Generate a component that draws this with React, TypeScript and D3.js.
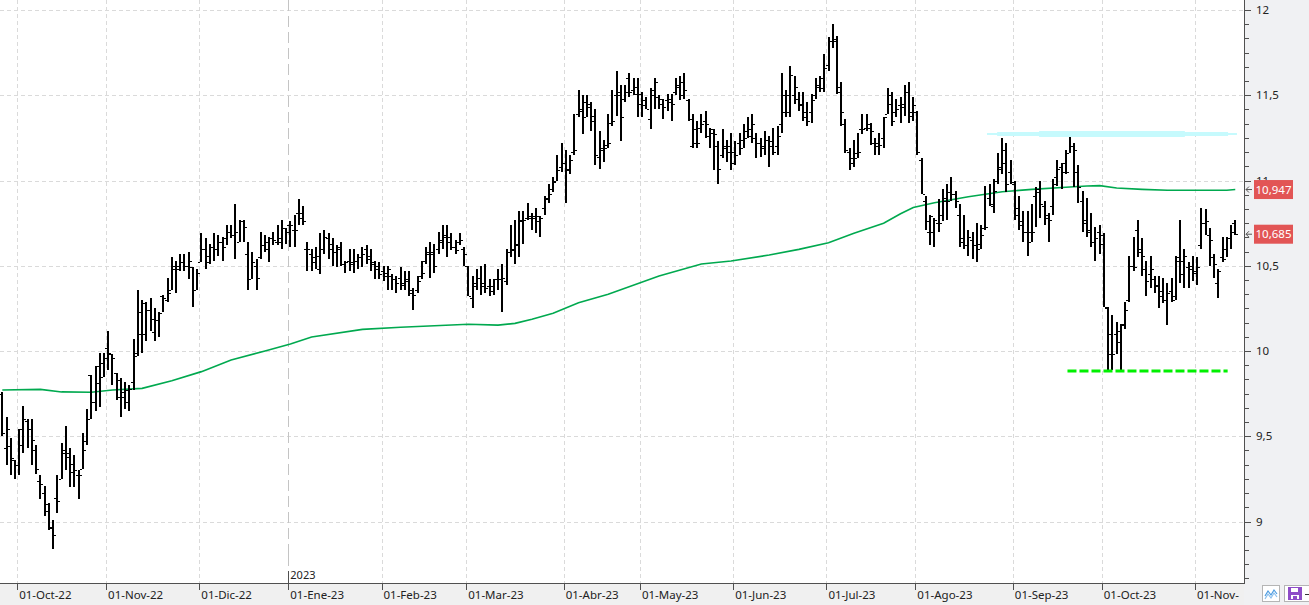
import React from "react";
import * as d3 from "d3";

// OHLC diario (sesiones desde 27-sep-22 hasta 14-nov-23)
const opens = [
  9.75, 9.43, 9.44, 9.36, 9.33, 9.54, 9.59, 9.54, 9.42, 9.24, 9.17, 9.06, 8.97, 9.14, 9.25, 9.42, 9.40, 9.34, 9.27, 9.31,
  9.47, 9.86, 9.70, 9.91, 9.93, 10.02, 9.98, 9.87, 9.73, 9.73, 9.77, 9.82, 9.97, 10.10, 10.10, 10.24, 10.11, 10.18, 10.32, 10.30,
  10.36, 10.48, 10.50, 10.52, 10.50, 10.49, 10.36, 10.52, 10.60, 10.52, 10.61, 10.60, 10.64, 10.66, 10.70, 10.68, 10.64, 10.76, 10.57, 10.42,
  10.50, 10.55, 10.62, 10.60, 10.66, 10.64, 10.66, 10.72, 10.74, 10.71, 10.81, 10.78, 10.60, 10.57, 10.52, 10.48, 10.60, 10.66, 10.63, 10.58,
  10.61, 10.51, 10.53, 10.52, 10.53, 10.55, 10.60, 10.56, 10.51, 10.50, 10.47, 10.44, 10.44, 10.42, 10.43, 10.40, 10.41, 10.34, 10.36, 10.44,
  10.53, 10.58, 10.58, 10.60, 10.65, 10.68, 10.64, 10.61, 10.64, 10.60, 10.50, 10.31, 10.40, 10.43, 10.40, 10.38, 10.38, 10.42, 10.42, 10.41,
  10.58, 10.60, 10.62, 10.76, 10.78, 10.79, 10.78, 10.76, 10.84, 10.90, 10.95, 11.00, 11.08, 11.10, 11.07, 11.17, 11.39, 11.42, 11.37, 11.43,
  11.38, 11.14, 11.18, 11.21, 11.34, 11.50, 11.50, 11.48, 11.60, 11.53, 11.55, 11.45, 11.47, 11.36, 11.50, 11.49, 11.45, 11.47, 11.48, 11.52,
  11.56, 11.58, 11.47, 11.20, 11.30, 11.31, 11.35, 11.26, 11.28, 11.20, 11.15, 11.20, 11.20, 11.17, 11.22, 11.24, 11.29, 11.30, 11.25, 11.22,
  11.20, 11.24, 11.20, 11.20, 11.33, 11.40, 11.40, 11.50, 11.48, 11.45, 11.40, 11.40, 11.50, 11.56, 11.60, 11.68, 11.82, 11.82, 11.55, 11.33,
  11.17, 11.10, 11.16, 11.30, 11.31, 11.31, 11.22, 11.20, 11.25, 11.39, 11.45, 11.40, 11.44, 11.45, 11.52, 11.40, 11.40, 11.12, 10.88, 10.70,
  10.70, 10.75, 10.80, 10.90, 10.93, 10.92, 10.80, 10.66, 10.62, 10.65, 10.62, 10.63, 10.72, 10.90, 10.85, 11.00, 11.08, 11.18, 11.05, 10.98,
  10.80, 10.76, 10.70, 10.70, 10.91, 10.93, 10.85, 10.78, 10.85, 11.02, 11.08, 11.10, 11.16, 11.20, 11.05, 10.88, 10.75, 10.70, 10.64, 10.70,
  10.68, 10.25, 10.10, 10.10, 10.12, 10.16, 10.30, 10.50, 10.71, 10.60, 10.48, 10.45, 10.42, 10.38, 10.35, 10.30, 10.35, 10.32, 10.55, 10.45,
  10.49, 10.50, 10.47, 10.62, 10.75, 10.68, 10.55, 10.40, 10.55, 10.60, 10.66, 10.75,
];
const highs = [
  9.76, 9.61, 9.49, 9.36, 9.54, 9.68, 9.60, 9.60, 9.45, 9.27, 9.21, 9.11, 9.01, 9.27, 9.46, 9.56, 9.43, 9.39, 9.30, 9.52,
  9.66, 9.86, 9.91, 9.99, 9.99, 10.12, 9.98, 9.87, 9.84, 9.82, 9.80, 10.07, 10.36, 10.30, 10.29, 10.31, 10.25, 10.23, 10.33, 10.43,
  10.55, 10.53, 10.57, 10.57, 10.58, 10.49, 10.48, 10.69, 10.66, 10.63, 10.69, 10.68, 10.67, 10.74, 10.74, 10.86, 10.77, 10.77, 10.64, 10.58,
  10.54, 10.70, 10.68, 10.67, 10.70, 10.74, 10.77, 10.72, 10.76, 10.80, 10.89, 10.85, 10.64, 10.60, 10.61, 10.69, 10.71, 10.69, 10.66, 10.62,
  10.64, 10.53, 10.60, 10.60, 10.57, 10.61, 10.62, 10.60, 10.53, 10.52, 10.50, 10.50, 10.45, 10.44, 10.49, 10.47, 10.47, 10.37, 10.44, 10.53,
  10.61, 10.64, 10.63, 10.70, 10.74, 10.74, 10.69, 10.65, 10.69, 10.61, 10.50, 10.44, 10.48, 10.50, 10.51, 10.42, 10.42, 10.48, 10.51, 10.60,
  10.74, 10.77, 10.82, 10.82, 10.87, 10.81, 10.84, 10.79, 10.91, 10.98, 11.02, 11.15, 11.22, 11.18, 11.15, 11.39, 11.53, 11.50, 11.50, 11.46,
  11.42, 11.29, 11.24, 11.39, 11.53, 11.64, 11.56, 11.56, 11.63, 11.60, 11.60, 11.52, 11.49, 11.54, 11.60, 11.50, 11.48, 11.51, 11.51, 11.60,
  11.61, 11.63, 11.48, 11.39, 11.35, 11.39, 11.41, 11.31, 11.30, 11.23, 11.30, 11.24, 11.28, 11.23, 11.28, 11.33, 11.37, 11.39, 11.28, 11.25,
  11.29, 11.26, 11.31, 11.32, 11.63, 11.53, 11.67, 11.61, 11.52, 11.52, 11.46, 11.51, 11.60, 11.61, 11.74, 11.84, 11.92, 11.85, 11.58, 11.36,
  11.19, 11.24, 11.28, 11.39, 11.39, 11.34, 11.25, 11.28, 11.37, 11.54, 11.52, 11.48, 11.49, 11.56, 11.58, 11.49, 11.41, 11.13, 10.91, 10.80,
  10.78, 10.89, 10.95, 10.98, 11.02, 10.94, 10.86, 10.80, 10.71, 10.70, 10.75, 10.74, 10.97, 10.98, 11.01, 11.16, 11.25, 11.22, 11.12, 11.00,
  10.91, 10.82, 10.82, 10.86, 10.96, 11.00, 10.88, 10.81, 11.01, 11.12, 11.10, 11.18, 11.29, 11.22, 11.09, 10.94, 10.90, 10.81, 10.73, 10.74,
  10.69, 10.26, 10.21, 10.17, 10.16, 10.29, 10.56, 10.67, 10.77, 10.66, 10.53, 10.56, 10.44, 10.44, 10.43, 10.40, 10.43, 10.56, 10.77, 10.60,
  10.52, 10.56, 10.55, 10.84, 10.83, 10.72, 10.57, 10.48, 10.67, 10.67, 10.74, 10.77,
];
const lows = [
  9.50, 9.33, 9.27, 9.25, 9.27, 9.40, 9.43, 9.33, 9.28, 9.13, 9.03, 8.95, 8.84, 9.05, 9.25, 9.30, 9.20, 9.20, 9.13, 9.31,
  9.45, 9.60, 9.65, 9.67, 9.85, 9.89, 9.80, 9.71, 9.61, 9.66, 9.65, 9.77, 9.97, 9.99, 10.06, 10.12, 10.06, 10.08, 10.23, 10.29,
  10.36, 10.34, 10.47, 10.47, 10.42, 10.26, 10.36, 10.52, 10.48, 10.51, 10.53, 10.56, 10.53, 10.62, 10.66, 10.54, 10.64, 10.64, 10.36, 10.42,
  10.36, 10.54, 10.58, 10.52, 10.62, 10.62, 10.60, 10.63, 10.61, 10.61, 10.74, 10.74, 10.47, 10.47, 10.48, 10.45, 10.57, 10.54, 10.50, 10.49,
  10.50, 10.46, 10.47, 10.46, 10.48, 10.49, 10.51, 10.47, 10.42, 10.42, 10.41, 10.36, 10.36, 10.34, 10.36, 10.36, 10.32, 10.24, 10.34, 10.42,
  10.51, 10.43, 10.46, 10.57, 10.60, 10.55, 10.59, 10.57, 10.62, 10.50, 10.32, 10.25, 10.36, 10.33, 10.34, 10.32, 10.33, 10.36, 10.23, 10.39,
  10.55, 10.51, 10.55, 10.63, 10.77, 10.71, 10.69, 10.67, 10.80, 10.87, 10.93, 11.00, 11.05, 10.87, 11.04, 11.15, 11.37, 11.27, 11.37, 11.29,
  11.09, 11.07, 11.11, 11.19, 11.32, 11.38, 11.23, 11.46, 11.49, 11.50, 11.37, 11.37, 11.42, 11.30, 11.42, 11.42, 11.36, 11.41, 11.35, 11.50,
  11.47, 11.48, 11.35, 11.19, 11.19, 11.28, 11.25, 11.19, 11.06, 10.98, 11.13, 11.11, 11.06, 11.09, 11.15, 11.19, 11.25, 11.22, 11.13, 11.14,
  11.15, 11.08, 11.15, 11.15, 11.28, 11.37, 11.37, 11.45, 11.41, 11.35, 11.32, 11.34, 11.48, 11.52, 11.52, 11.64, 11.78, 11.51, 11.32, 11.16,
  11.06, 11.08, 11.13, 11.27, 11.29, 11.21, 11.15, 11.15, 11.19, 11.39, 11.32, 11.37, 11.34, 11.38, 11.34, 11.35, 11.15, 10.92, 10.71, 10.62,
  10.61, 10.70, 10.76, 10.77, 10.88, 10.84, 10.61, 10.60, 10.56, 10.54, 10.52, 10.60, 10.71, 10.85, 10.81, 10.98, 11.04, 10.93, 10.98, 10.77,
  10.71, 10.64, 10.56, 10.64, 10.73, 10.78, 10.74, 10.64, 10.80, 10.97, 10.95, 11.04, 11.16, 10.96, 10.87, 10.70, 10.67, 10.61, 10.53, 10.57,
  10.26, 9.89, 9.89, 9.98, 9.89, 10.13, 10.29, 10.47, 10.55, 10.44, 10.32, 10.37, 10.34, 10.25, 10.28, 10.15, 10.29, 10.30, 10.40, 10.37,
  10.37, 10.41, 10.39, 10.60, 10.68, 10.50, 10.43, 10.31, 10.52, 10.55, 10.60, 10.68,
];
const closes = [
  9.52, 9.54, 9.37, 9.33, 9.45, 9.60, 9.54, 9.48, 9.31, 9.22, 9.10, 8.96, 8.92, 9.12, 9.40, 9.38, 9.29, 9.30, 9.27, 9.42,
  9.60, 9.70, 9.81, 9.85, 9.96, 9.99, 9.96, 9.83, 9.76, 9.70, 9.78, 9.99, 10.23, 10.28, 10.24, 10.19, 10.18, 10.22, 10.31, 10.34,
  10.50, 10.48, 10.52, 10.50, 10.53, 10.36, 10.46, 10.60, 10.56, 10.61, 10.60, 10.64, 10.61, 10.70, 10.68, 10.70, 10.76, 10.73, 10.42, 10.52,
  10.43, 10.62, 10.64, 10.66, 10.65, 10.64, 10.72, 10.70, 10.74, 10.71, 10.81, 10.76, 10.60, 10.55, 10.56, 10.60, 10.67, 10.60, 10.58, 10.60,
  10.51, 10.52, 10.51, 10.53, 10.55, 10.57, 10.54, 10.52, 10.48, 10.45, 10.46, 10.48, 10.42, 10.40, 10.39, 10.42, 10.36, 10.33, 10.41, 10.46,
  10.57, 10.57, 10.50, 10.64, 10.67, 10.67, 10.61, 10.59, 10.65, 10.57, 10.32, 10.38, 10.43, 10.38, 10.37, 10.35, 10.42, 10.42, 10.43, 10.58,
  10.59, 10.63, 10.77, 10.77, 10.78, 10.79, 10.79, 10.78, 10.89, 10.92, 10.99, 11.06, 11.10, 11.06, 11.12, 11.18, 11.41, 11.46, 11.45, 11.35,
  11.15, 11.19, 11.19, 11.22, 11.35, 11.52, 11.37, 11.52, 11.52, 11.51, 11.51, 11.44, 11.42, 11.53, 11.58, 11.48, 11.43, 11.46, 11.45, 11.55,
  11.50, 11.53, 11.36, 11.22, 11.22, 11.33, 11.33, 11.30, 11.27, 11.07, 11.19, 11.17, 11.10, 11.15, 11.19, 11.25, 11.26, 11.33, 11.22, 11.19,
  11.24, 11.23, 11.17, 11.26, 11.50, 11.50, 11.62, 11.55, 11.44, 11.37, 11.35, 11.47, 11.55, 11.54, 11.66, 11.82, 11.83, 11.52, 11.40, 11.18,
  11.13, 11.13, 11.17, 11.30, 11.33, 11.29, 11.22, 11.21, 11.37, 11.50, 11.35, 11.42, 11.43, 11.52, 11.38, 11.44, 11.17, 10.92, 10.76, 10.79,
  10.77, 10.75, 10.88, 10.88, 10.92, 10.88, 10.64, 10.62, 10.67, 10.62, 10.60, 10.68, 10.73, 10.86, 10.94, 11.07, 11.10, 10.98, 10.99, 10.84,
  10.74, 10.70, 10.64, 10.70, 10.95, 10.86, 10.80, 10.77, 10.98, 11.07, 11.05, 11.05, 11.26, 11.18, 10.96, 10.77, 10.71, 10.64, 10.66, 10.63,
  10.26, 9.98, 9.98, 10.05, 10.15, 10.24, 10.50, 10.49, 10.58, 10.56, 10.41, 10.48, 10.39, 10.32, 10.30, 10.34, 10.30, 10.53, 10.53, 10.56,
  10.48, 10.46, 10.49, 10.75, 10.76, 10.65, 10.51, 10.47, 10.54, 10.66, 10.70, 10.685,
];

// media móvil (sesión, valor)
const maIndex = [0, 9, 14, 21, 26, 33, 40, 47, 54, 62, 68, 73, 85, 94, 102, 110, 117, 121, 125, 130, 136, 143, 155, 165, 172, 181, 188, 195, 201, 208, 212, 215, 220, 228, 236, 243, 251, 256, 259, 263, 269, 275, 289, 291];
const maValue = [9.771, 9.775, 9.760, 9.758, 9.771, 9.781, 9.826, 9.879, 9.947, 10.0, 10.041, 10.082, 10.127, 10.139, 10.148, 10.157, 10.152, 10.162, 10.186, 10.221, 10.283, 10.333, 10.44, 10.51, 10.528, 10.563, 10.596, 10.635, 10.69, 10.749, 10.805, 10.842, 10.87, 10.905, 10.934, 10.948, 10.96, 10.968, 10.97, 10.956, 10.948, 10.943, 10.943, 10.947];

const monthStart = [4, 25, 47, 68, 90, 110, 133, 151, 173, 195, 216, 239, 260, 282];
const monthLabels = ["01-Oct-22", "01-Nov-22", "01-Dic-22", "01-Ene-23", "01-Feb-23", "01-Mar-23", "01-Abr-23", "01-May-23", "01-Jun-23", "01-Jul-23", "01-Ago-23", "01-Sep-23", "01-Oct-23", "01-Nov-"];
const yearMark = { index: 68, label: "2023" };
const priceTicks = [12, 11.5, 11, 10.5, 10, 9.5, 9];
const priceLabels = ["12", "11,5", "11", "10,5", "10", "9,5", "9"];

// trazos dibujados a mano
const resistance = { value: 11.273, from: 232.4, to: 291.4, inner: [234.8, 289.3], core: [244.7, 279.1] };
const support = { value: 9.883, from: 251.4, to: 289.2 };
const lastMA = 10.947;
const lastClose = 10.685;

const W = 1309;
const H = 605;
const plotRight = 1244;
const axisY = 583;
const font = "'Noto Sans', 'DejaVu Sans', sans-serif";

export default function App() {
  const n = closes.length;
  const step = 4.237;
  const x = d3.scaleLinear().domain([0, n - 1]).range([2.3, 2.3 + step * (n - 1)]);
  const y = d3.scaleLinear().domain([9, 12]).range([521.5, 10]);

  const maLine = d3
    .line<number>()
    .x((d, i) => x(maIndex[i]))
    .y((d) => y(d));

  const minorTicks = d3.range(0, 45).map((k) => 12.25 - k / 12).filter((v) => y(v) > 0 && y(v) < axisY);

  const grid = "#dadada";
  const px = (v: number) => Math.round(v) + 0.5;

  return (
    <div style={{ position: "fixed", left: 0, top: 0 }}>
      <svg width={W} height={H} style={{ display: "block", fontFamily: font }}>
        <rect x={0} y={0} width={W} height={H} fill="#ffffff" />
        <rect x={plotRight} y={0} width={W - plotRight} height={H} fill="#f0f1f3" />
        <rect x={0} y={axisY} width={plotRight} height={H - axisY} fill="#f0f0f0" />

        {/* rejilla */}
        {priceTicks.map((v) => (
          <line key={"h" + v} x1={0} x2={plotRight} y1={px(y(v))} y2={px(y(v))} stroke={grid} strokeDasharray="4,3" />
        ))}
        {monthStart.map((idx, k) =>
          idx === yearMark.index ? null : (
            <line key={"v" + k} x1={px(x(idx - 0.5))} x2={px(x(idx - 0.5))} y1={0} y2={axisY} stroke={grid} strokeDasharray="4,3" />
          )
        )}
        <line x1={px(x(yearMark.index - 0.5))} x2={px(x(yearMark.index - 0.5))} y1={0} y2={566} stroke="#c4c4c4" strokeDasharray="11,5" />
        <line x1={px(x(yearMark.index - 0.5))} x2={px(x(yearMark.index - 0.5))} y1={546} y2={564} stroke="#c4c4c4" />

        {/* media móvil */}
        <path d={maLine(maValue) || ""} fill="none" stroke="#00a94f" strokeWidth={1.6} />

        {/* barras OHLC */}
        <g fill="#000" shapeRendering="crispEdges">
          {closes.map((c, i) => {
            const cx = Math.round(x(i));
            const yh = Math.round(y(highs[i]));
            const yl = Math.round(y(lows[i]));
            return (
              <g key={i}>
                <rect x={cx - 1} y={yh} width={2} height={Math.max(1, yl - yh)} />
                <rect x={cx - 3} y={Math.round(y(opens[i]))} width={2} height={1} />
                <rect x={cx + 1} y={Math.round(y(c))} width={2} height={1} />
              </g>
            );
          })}
        </g>

        {/* resistencia */}
        <g stroke="#c6fafd" strokeLinecap="butt">
          <line x1={x(resistance.from)} x2={x(resistance.to)} y1={y(resistance.value)} y2={y(resistance.value)} strokeWidth={2} />
          <line x1={x(resistance.inner[0])} x2={x(resistance.inner[1])} y1={y(resistance.value)} y2={y(resistance.value)} strokeWidth={4} />
          <line x1={x(resistance.core[0])} x2={x(resistance.core[1])} y1={y(resistance.value)} y2={y(resistance.value)} strokeWidth={6} />
        </g>
        {/* soporte */}
        <line
          x1={x(support.from)}
          x2={x(support.to)}
          y1={y(support.value)}
          y2={y(support.value)}
          stroke="#00f000"
          strokeWidth={3}
          strokeDasharray="9,3"
        />

        {/* ejes */}
        <line x1={plotRight + 0.5} x2={plotRight + 0.5} y1={0} y2={axisY} stroke="#505050" />
        <line x1={0} x2={plotRight + 1} y1={axisY + 0.5} y2={axisY + 0.5} stroke="#505050" />
        {minorTicks.map((v, k) => (
          <line key={"mt" + k} x1={plotRight} x2={plotRight + 5} y1={px(y(v))} y2={px(y(v))} stroke="#505050" />
        ))}
        {priceTicks.map((v, k) => (
          <g key={"pt" + k}>
            <line x1={plotRight} x2={plotRight + 7} y1={px(y(v))} y2={px(y(v))} stroke="#505050" />
            <text x={plotRight + 12} y={y(v)} dy="0.35em" fontSize={11.5} fill="#222">
              {priceLabels[k]}
            </text>
          </g>
        ))}
        {monthStart.map((idx, k) => (
          <g key={"mx" + k}>
            <line x1={px(x(idx - 0.5))} x2={px(x(idx - 0.5))} y1={axisY} y2={axisY + 7} stroke="#505050" />
            <text x={x(idx - 0.5) + 2} y={599} fontSize={11.5} fill="#222">
              {monthLabels[k]}
            </text>
          </g>
        ))}
        <line x1={px(x(yearMark.index - 0.5))} x2={px(x(yearMark.index - 0.5))} y1={571} y2={axisY} stroke="#505050" />
        <text x={x(yearMark.index - 0.5) + 2} y={578.5} fontSize={11} fill="#222">
          {yearMark.label}
        </text>

        {/* etiquetas de último valor */}
        {[lastMA, lastClose].map((v, k) => {
          const cy = y(v);
          return (
            <g key={"lb" + k}>
              <path
                d={`M${plotRight + 5},${cy - 3} L${plotRight + 2},${cy} L${plotRight + 5},${cy + 3} M${plotRight + 2},${cy} L${plotRight + 8},${cy}`}
                stroke="#555"
                fill="none"
              />
              <rect x={1254} y={cy - 9.5} width={39} height={19} fill="#e25555" />
              <text x={1273.5} y={cy} dy="0.36em" textAnchor="middle" fontSize={11.5} fill="#fff">
                {d3.format(".3f")(v).replace(".", ",")}
              </text>
            </g>
          );
        })}

        {/* iconos inferiores */}
        <rect x={1262.5} y={585.5} width={17} height={16} fill="#fff" stroke="#b5b5b5" />
        <path d="M1265,596 L1268,591 L1271,595 L1274,590 L1277,594" fill="none" stroke="#4b9be0" strokeWidth={1.2} />
        <path d="M1265,599 L1268,594 L1271,598 L1274,593 L1277,597" fill="none" stroke="#8cc0ee" strokeWidth={1.2} />
        <rect x={1284.5} y={585.5} width={30} height={16} fill="#fff" stroke="#b5b5b5" />
        <rect x={1288} y={587} width={14} height={13} fill="#8e4cc8" />
        <rect x={1291} y={588} width={7} height={4} fill="#fff" />
        <rect x={1291} y={595} width={8} height={4} fill="#fff" />
        <rect x={1293} y={596} width={4} height={3} fill="#8e4cc8" />
        <line x1={1305} x2={1309} y1={594.5} y2={594.5} stroke="#333" />
      </svg>
    </div>
  );
}
